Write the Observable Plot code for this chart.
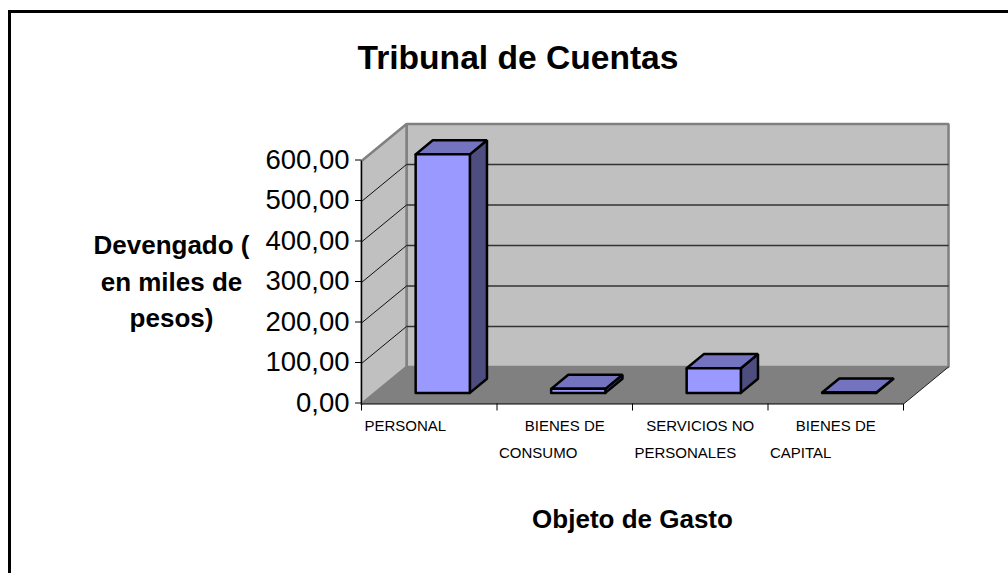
<!DOCTYPE html>
<html>
<head>
<meta charset="utf-8">
<script src="https://cdn.jsdelivr.net/npm/d3@7"></script>
<script src="https://cdn.jsdelivr.net/npm/@observablehq/plot@0.6"></script>
<style>
html,body{margin:0;padding:0;background:#fff;overflow:hidden;width:1008px;height:573px}
#frame{position:absolute;left:8px;top:10px;width:1020px;height:600px;border:3px solid #000;box-sizing:border-box;pointer-events:none}
#chart{position:absolute;left:0;top:0}
svg{display:block}
</style>
</head>
<body>
<div id="chart"></div>
<div id="frame"></div>
<script>
const chartTitle = "Tribunal de Cuentas";
const xTitle = "Objeto de Gasto";
const yTitleLines = ["Devengado (", "en miles de", "pesos)"];
const categories = ["PERSONAL", "BIENES DE CONSUMO", "SERVICIOS NO PERSONALES", "BIENES DE CAPITAL"];
const firstLines = ["PERSONAL", "BIENES DE", "SERVICIOS NO", "BIENES DE"];
const secondLines = ["", "CONSUMO", "PERSONALES", "CAPITAL"];
const devengado = [589, 10, 61, 1];
const yTicks = [0, 100, 200, 300, 400, 500, 600];
const xTicks = [0, 1, 2, 3, 4];

// Oblique depth of the 3D box, in scale units (one category wide, value units tall)
const depthX = 0.3324, depthY = 91.4;
const P = (x, y, d = 0) => ({x: x + d * depthX, y: y + d * depthY});
const poly = (z, pts) => [...pts, pts[0]].map(p => ({...p, z}));

const xMax = categories.length, yMax = 600;
const barD0 = 0.3, barD1 = 0.68, barPad = 0.3;

const floor = poly("floor", [P(0,0), P(0,0,1), P(xMax,0,1), P(xMax,0)]);
const back = poly("back", [P(0,0,1), P(0,yMax,1), P(xMax,yMax,1), P(xMax,0,1)]);
const side = poly("side", [P(0,0), P(0,yMax), P(0,yMax,1), P(0,0,1)]);

const fronts = [], tops = [], sides = [];
devengado.forEach((v, i) => {
  const a = i + barPad, b = i + 1 - barPad;
  fronts.push(...poly("f"+i, [P(a,0,barD0), P(a,v,barD0), P(b,v,barD0), P(b,0,barD0)]));
  tops.push(...poly("t"+i, [P(a,v,barD0), P(a,v,barD1), P(b,v,barD1), P(b,v,barD0)]));
  sides.push(...poly("s"+i, [P(b,0,barD0), P(b,v,barD0), P(b,v,barD1), P(b,0,barD1)]));
});
const comma = d => d3.format(".2f")(d).replace(".", ",");
const face = (data, fill, stroke, strokeWidth) =>
  Plot.line(data, {x:"x", y:"y", z:"z", fill, stroke, strokeWidth, curve:"linear", strokeLinejoin:"miter"});
const innerTicks = yTicks.filter(d => d > 0 && d < yMax);
const boldLine = (line, dy) => Plot.text([line], {frameAnchor: "top-left", dx: -190, dy, text: d => d, fontSize: 26, fontWeight: "bold", textAnchor: "middle", fill: "#000"});

const plot = Plot.plot({
  width: 1008, height: 573,
  marginLeft: 361, marginRight: 105, marginTop: 160.5, marginBottom: 169.5,
  style: {fontFamily: "'Liberation Sans', Arial, sans-serif", background: "#fff", color: "#000", overflow: "visible"},
  x: {domain: [0, xMax], label: null},
  y: {domain: [0, yMax], label: null},
  marks: [
    face(back, "#C0C0C0", "#808080", 2.5),
    face(side, "#C0C0C0", "#808080", 2.5),
    face(floor, "#808080", "none", 0),
    // gridlines: back wall and side wall
    Plot.link(innerTicks, {x1: () => depthX, x2: () => xMax + depthX, y1: d => d + depthY, y2: d => d + depthY, stroke: "#333", strokeWidth: 1.5}),
    Plot.link(innerTicks, {x1: () => 0, x2: () => depthX, y1: d => d, y2: d => d + depthY, stroke: "#111", strokeWidth: 1}),
    Plot.link([0], {x1: () => xMax, x2: () => xMax + depthX, y1: () => 0, y2: () => depthY, stroke: "#222", strokeWidth: 1}),
    // bars
    face(sides, "#4D4D80", "#000", 2.5),
    face(tops, "#7373BF", "#000", 2.5),
    face(fronts, "#9999FF", "#000", 2.5),
    // axes
    Plot.ruleX([0], {y1: 0, y2: yMax, stroke: "#000"}),
    Plot.ruleY([0], {x1: 0, x2: xMax, stroke: "#000"}),
    Plot.axisY({ticks: yTicks, tickSize: 6, tickPadding: 6, tickFormat: comma, fontSize: 27.5, label: null, dy: -1}),
    Plot.axisX({ticks: xTicks, tickSize: 7, tickFormat: () => null, label: null}),
    // category labels
    Plot.text(firstLines, {
      x: (d, i) => i + 0.5, y: () => 0, text: d => d, textAnchor: "middle", fontSize: 15, dy: 22,
      filter: (d, i) => i > 0, fill: "#000"
    }),
    Plot.text(firstLines.slice(0, 1), {x: () => 0, y: () => 0, text: d => d, textAnchor: "start", fontSize: 15, dy: 22, dx: 3, fill: "#000"}),
    Plot.text(secondLines, {
      x: (d, i) => i, y: () => 0, text: d => d, textAnchor: "start", fontSize: 15, dy: 49, dx: 2, fill: "#000"
    }),
    // titles
    Plot.text([chartTitle], {frameAnchor: "top-left", dx: 156.5, dy: -116, text: d => d, textAnchor: "middle", fontSize: 33.6, fontWeight: "bold", fill: "#000"}),
    boldLine(yTitleLines[0], 75),
    boldLine(yTitleLines[1], 112),
    boldLine(yTitleLines[2], 148),
    Plot.text([xTitle], {x: () => xMax / 2, y: () => 0, dy: 116, text: d => d, textAnchor: "middle", fontSize: 26, fontWeight: "bold", fill: "#000"})
  ]
});
document.getElementById("chart").append(plot);
</script>
</body>
</html>
